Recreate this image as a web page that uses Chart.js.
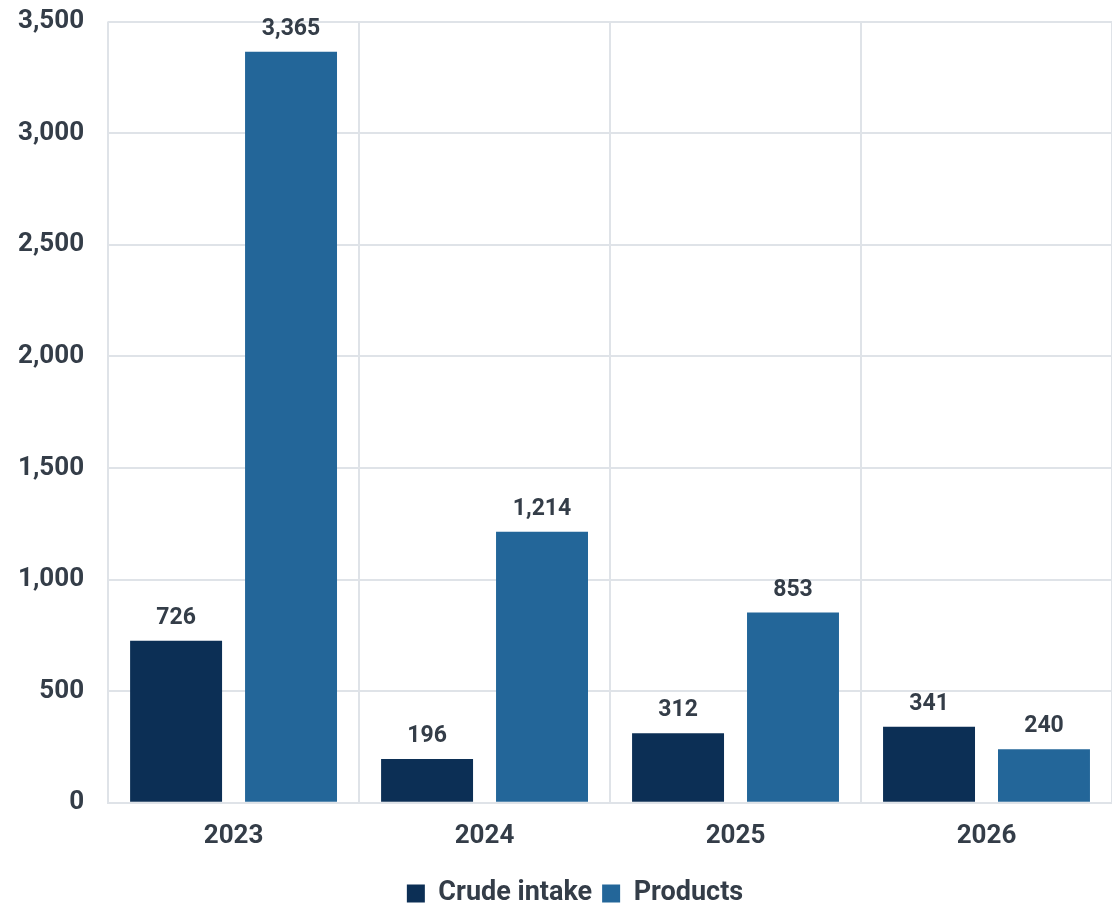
<!DOCTYPE html>
<html>
<head>
<meta charset="utf-8">
<script src="https://cdn.jsdelivr.net/npm/chart.js@4/dist/chart.umd.min.js"></script>
<style>
	html, body { margin: 0; padding: 0; background: #fff; overflow: hidden; }
	/* canvas is pulled up/left so the tick labels hug the window edges */
	#wrap { width: 1118px; height: 924px; margin-top: -18px; margin-left: -6px; }
</style>
</head>
<body>
<div id="wrap"><canvas id="chart"></canvas></div>
<script>
const years = ["2023", "2024", "2025", "2026"];
const crudeIntake = [726, 196, 312, 341];
const products = [3365, 1214, 853, 240];

const textColor = "#343d48";

// draws the number above every bar
const barLabels = {
	id: "barLabels",
	afterDatasetsDraw(chart) {
		const ctx = chart.ctx;
		ctx.save();
		ctx.font = "bold 23px Roboto";
		ctx.fillStyle = textColor;
		ctx.textAlign = "center";
		ctx.textBaseline = "bottom";
		chart.data.datasets.forEach((ds, i) => {
			chart.getDatasetMeta(i).data.forEach((bar, j) => {
				ctx.fillText(ds.data[j].toLocaleString("en-US"), bar.x, bar.y - 11);
			});
		});
		ctx.restore();
	},
};

// legend in the original sits a bit right of the canvas centre
const nudgeLegend = {
	id: "nudgeLegend",
	afterLayout(chart) {
		chart.legend.left += 22;
		chart.legend.right += 22;
	},
};

new Chart(document.getElementById("chart"), {
	type: "bar",
	data: {
		labels: years,
		datasets: [
			{ label: "Crude intake", data: crudeIntake, backgroundColor: "#0c2f55" },
			{ label: "Products", data: products, backgroundColor: "#236699" },
		],
	},
	options: {
		responsive: true,
		maintainAspectRatio: false,
		animation: false,
		layout: { padding: { top: 0, right: 0, left: 0, bottom: -11 } },
		datasets: {
			bar: { categoryPercentage: 0.916, barPercentage: 0.8 },
		},
		scales: {
			x: {
				grid: { color: "#dfe3e8", lineWidth: 2, offset: true, drawTicks: false },
				border: { color: "#dfe3e8", width: 2 },
				ticks: { color: textColor, font: { family: "Roboto", weight: "bold", size: 26 }, padding: 18 },
			},
			y: {
				min: 0,
				max: 3500,
				ticks: {
					stepSize: 500,
					color: textColor,
					font: { family: "Roboto", weight: "bold", size: 26 },
					padding: 24,
					callback: (v) => v.toLocaleString("en-US"),
				},
				grid: { color: "#dfe3e8", lineWidth: 2, drawTicks: false },
				border: { display: false },
			},
		},
		plugins: {
			legend: {
				position: "bottom",
				labels: {
					color: textColor,
					font: { family: "Roboto", weight: "bold", size: 27 },
					boxWidth: 18,
					boxHeight: 18,
					padding: 10,
				},
			},
			tooltip: { enabled: false },
		},
	},
	plugins: [barLabels, nudgeLegend],
});
</script>
</body>
</html>
